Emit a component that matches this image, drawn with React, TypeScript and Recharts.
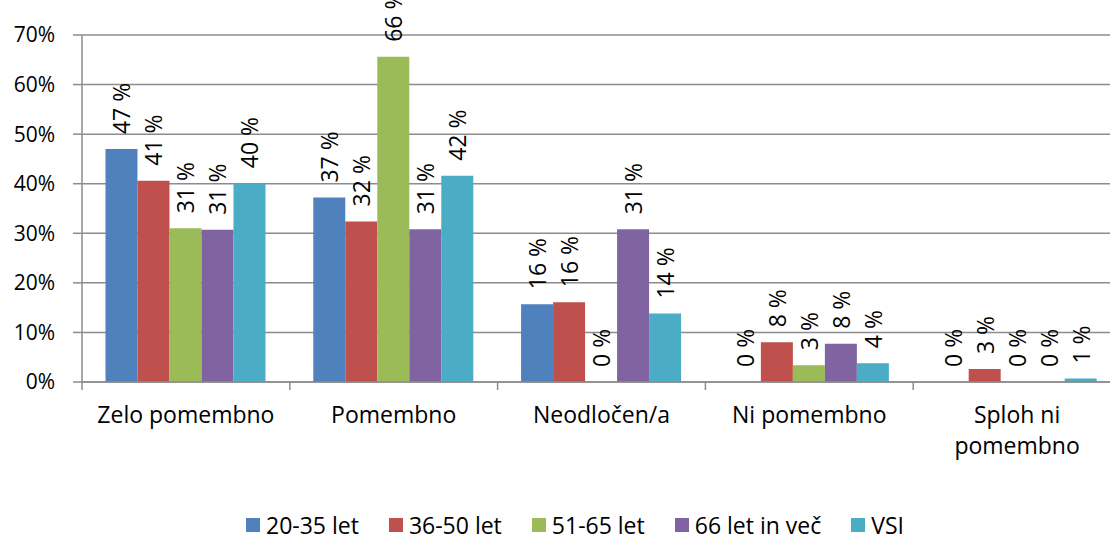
import React from 'react';
import { BarChart, Bar, XAxis, YAxis, CartesianGrid, LabelList, Legend } from 'recharts';

// ---- Data ----
const categories = ['Zelo pomembno', 'Pomembno', 'Neodločen/a', 'Ni pomembno', 'Sploh ni pomembno'];
const age20to35 = [47.0, 37.2, 15.7, 0, 0];
const age36to50 = [40.6, 32.4, 16.1, 8.0, 2.6];
const age51to65 = [31.0, 65.6, 0, 3.4, 0];
const age66plus = [30.7, 30.8, 30.8, 7.7, 0];
const vsi = [40.1, 41.6, 13.8, 3.8, 0.7];
const yTicks = [0, 10, 20, 30, 40, 50, 60, 70];

const seriesKeys = ['a', 'b', 'c', 'd', 'e'];
const seriesNames = ['20-35 let', '36-50 let', '51-65 let', '66 let in več', 'VSI'];
const seriesColors = ['#4F81BD', '#C0504D', '#9BBB59', '#8064A2', '#4BACC6'];
const seriesValues = [age20to35, age36to50, age51to65, age66plus, vsi];

const data = categories.map((name, i) => {
  const row: any = { name };
  seriesKeys.forEach((k, s) => {
    row[k] = seriesValues[s][i];
  });
  return row;
});

// ---- Layout ----
const FONT = '"Open Sans", "Noto Sans", sans-serif';
const AXIS = '#8c8c8c';
const CHART_W = 1125;
const CHART_H = 534;
const MARGIN = { top: 35, right: 4, bottom: 52, left: 0 };
const Y_AXIS_W = 82;
const X_AXIS_H = 100;
const PLOT_W = CHART_W - MARGIN.left - MARGIN.right - Y_AXIS_W;
const HALF_BAND = PLOT_W / categories.length / 2;
const MAX_CHARS = 14;

const wrapWords = (s: string): string[] => {
  const words = s.split(' ');
  const lines: string[] = [];
  let cur = '';
  words.forEach((w) => {
    const next = cur ? `${cur} ${w}` : w;
    if (next.length > MAX_CHARS && cur) {
      lines.push(cur);
      cur = w;
    } else {
      cur = next;
    }
  });
  if (cur) lines.push(cur);
  return lines;
};

const XTick = (props: any) => {
  const { x, y, payload, index } = props;
  const last = index === categories.length - 1;
  const lines = wrapWords(String(payload.value));
  return (
    <g>
      <line x1={x - HALF_BAND} x2={x - HALF_BAND} y1={y} y2={y + 8} stroke={AXIS} strokeWidth={1.5} />
      {last && <line x1={x + HALF_BAND} x2={x + HALF_BAND} y1={y} y2={y + 8} stroke={AXIS} strokeWidth={1.5} />}
      <text x={x} y={y + 41} textAnchor="middle" fontSize={23} fontFamily={FONT} fill="#000">
        {lines.map((l, i) => (
          <tspan key={i} x={x} dy={i === 0 ? 0 : 31}>
            {l}
          </tspan>
        ))}
      </text>
    </g>
  );
};

const renderLabel = (props: any) => {
  const { x, y, width, value } = props;
  const cx = Number(x) + Number(width) / 2;
  const ty = Number(y) - 15;
  return (
    <text
      x={cx}
      y={ty}
      transform={`rotate(-90 ${cx} ${ty})`}
      textAnchor="start"
      dominantBaseline="central"
      fontSize={23}
      fontFamily={FONT}
      fill="#000"
    >
      {`${Math.round(Number(value))} %`}
    </text>
  );
};

const LegendContent = () => (
  <div style={{ display: 'flex', justifyContent: 'center', alignItems: 'center', height: 18, fontFamily: FONT, fontSize: 23, color: '#000' }}>
    {seriesNames.map((n, i) => (
      <div key={n} style={{ display: 'flex', alignItems: 'center', height: 18, marginRight: i < seriesNames.length - 1 ? 30 : 0 }}>
        <div style={{ width: 14, height: 14, background: seriesColors[i], marginRight: 6 }} />
        <span style={{ display: 'inline-block', whiteSpace: 'nowrap', height: 18, lineHeight: '18px' }}>{n}</span>
      </div>
    ))}
  </div>
);

export default function App() {
  return (
    <div style={{ position: 'absolute', left: 0, top: 0, width: 1110, height: 534, overflow: 'hidden', background: '#fff', fontFamily: FONT }}>
      <BarChart width={CHART_W} height={CHART_H} data={data} margin={MARGIN} barCategoryGap="11.3%" barGap={0}>
        <CartesianGrid vertical={false} stroke={AXIS} strokeWidth={1.5} />
        <XAxis
          dataKey="name"
          height={X_AXIS_H}
          interval={0}
          tickSize={0}
          tickMargin={0}
          tickLine={false}
          axisLine={{ stroke: AXIS, strokeWidth: 1.5 }}
          tick={<XTick />}
        />
        <YAxis
          width={Y_AXIS_W}
          domain={[0, 70]}
          ticks={yTicks}
          interval={0}
          allowDataOverflow
          tickFormatter={(v: number) => `${v}%`}
          tickSize={9}
          tickMargin={18}
          tick={{ fontSize: 21, fill: '#000', fontFamily: FONT }}
          axisLine={{ stroke: AXIS, strokeWidth: 1.5 }}
          tickLine={{ stroke: AXIS, strokeWidth: 1.5 }}
        />
        <Legend
          verticalAlign="middle"
          align="center"
          layout="horizontal"
          width={1150}
          wrapperStyle={{ top: 516, left: 0, width: 1150, height: 18 }}
          content={<LegendContent />}
        />
        {seriesKeys.map((k, i) => (
          <Bar key={k} dataKey={k} name={seriesNames[i]} fill={seriesColors[i]} minPointSize={0.01} isAnimationActive={false}>
            <LabelList dataKey={k} content={renderLabel} />
          </Bar>
        ))}
      </BarChart>
    </div>
  );
}
